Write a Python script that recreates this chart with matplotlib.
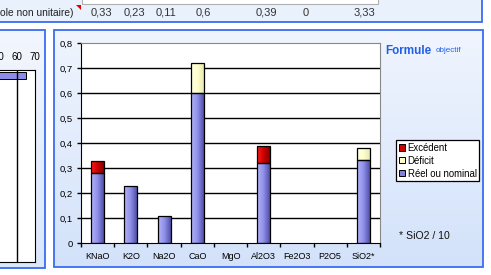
import numpy as np
import matplotlib
matplotlib.use('Agg')
import matplotlib.pyplot as plt
from matplotlib.patches import Rectangle, Patch, Polygon
from matplotlib.colors import LinearSegmentedColormap

W, H = 491, 275

# chart data
categories = ['KNaO', 'K2O', 'Na2O', 'CaO', 'MgO', 'Al2O3', 'Fe2O3', 'P2O5', 'SiO2*']
reel = [0.28, 0.23, 0.11, 0.60, 0.0, 0.32, 0.0, 0.0, 0.333]
excedent = [0.05, 0.0, 0.0, 0.0, 0.0, 0.07, 0.0, 0.0, 0.0]
deficit = [0.0, 0.0, 0.0, 0.12, 0.0, 0.0, 0.0, 0.0, 0.047]
yticks = [0, 0.1, 0.2, 0.3, 0.4, 0.5, 0.6, 0.7, 0.8]

# table row shown above the chart
row_label = 'ole non unitaire)'
row_values = ['0,33', '0,23', '0,11', '0,6', '0,39', '0', '3,33']
row_x = [101, 134, 166, 203, 266, 306, 364]   # column centers (px)

# left (cut-off) chart
left_values = [65]
left_ticks = [50, 60, 70]

BLUE = '#3a6cf2'
TXT_BLUE = '#1f5fe8'
FONT = 'Liberation Sans'


def box(x0, y0, x1, y1):
    '''pixel box (top-left origin) -> figure fraction rect'''
    return [x0 / W, 1 - y1 / H, (x1 - x0) / W, (y1 - y0) / H]


def prect(fig, x0, y0, x1, y1, **kw):
    r = Rectangle((x0 / W, 1 - y1 / H), (x1 - x0) / W, (y1 - y0) / H,
                  transform=fig.transFigure, **kw)
    fig.patches.append(r)
    return r


def gradient_panel(fig, x0, y0, x1, y1, top, bottom):
    bg = fig.add_axes(box(x0, y0, x1, y1), zorder=-5)
    cm = LinearSegmentedColormap.from_list('g', [top, bottom])
    bg.imshow(np.linspace(0, 1, 100).reshape(-1, 1), cmap=cm, aspect='auto',
              extent=[0, 1, 0, 1])
    bg.axis('off')
    prect(fig, x0, y0, x1, y1, fill=False, edgecolor=BLUE, lw=1.3, zorder=5)


fig = plt.figure(figsize=(W / 100, H / 100), dpi=100)
fig.patch.set_facecolor('white')

# ---- top table strip
prect(fig, -2, -2, 482, 21.5, facecolor='#e9f1fd', edgecolor=BLUE, lw=1.3)
prect(fig, 82, -2, 378, 4, facecolor='white', edgecolor='#b0b0b0', lw=0.8)
fig.patches.append(Polygon([(76 / W, 1 - 5 / H), (81 / W, 1 - 5 / H), (81 / W, 1 - 10 / H)],
                           closed=True, transform=fig.transFigure,
                           facecolor='#e00000', edgecolor='none'))
fig.text(73 / W, 1 - 12.5 / H, row_label, ha='right', va='center',
         fontsize=7.4, family=FONT, color='#222222')
for xv, s in zip(row_x, row_values):
    fig.text(xv / W, 1 - 12.5 / H, s, ha='center', va='center',
             fontsize=8, family=FONT, color='#333333')

# ---- left panel (partially visible chart)
gradient_panel(fig, -2, 30, 45, 268, '#f2f6fe', '#dbe7fb')
axl = fig.add_axes(box(-37, 70, 35, 262))
axl.barh([0], left_values, height=1, color='#8c8ce6', edgecolor='black', lw=0.7)
axl.set_xlim(30, 70)
axl.set_ylim(26.5, -0.8)
axl.set_yticks([])
axl.set_xticks(left_ticks)
axl.xaxis.tick_top()
axl.tick_params(axis='x', length=0, pad=6, labelsize=7)
for lab in axl.get_xticklabels():
    lab.set_family(FONT)
for xv in left_ticks[1:-1]:
    axl.axvline(xv, color='black', lw=1)
for sp in axl.spines.values():
    sp.set_color('black')

# ---- main panel
gradient_panel(fig, 54, 30, 482.5, 267, '#f0f5fe', '#d3e2fa')
ax = fig.add_axes(box(81, 43.3, 380, 243.3))
ax.set_facecolor('white')

x = np.arange(len(categories))
w = 0.39
reel = np.array(reel)
excedent = np.array(excedent)
deficit = np.array(deficit)

cm_reel = LinearSegmentedColormap.from_list('r', ['#b4b4fa', '#9090ea', '#5050a8'])
cm_exc = LinearSegmentedColormap.from_list('e', ['#ff1a1a', '#d00000', '#800000'])
cm_def = LinearSegmentedColormap.from_list('d', ['#ffffe0', '#ffffcc', '#e8e8b0'])

layers = [(reel, np.zeros(len(x)), '#8c8ce6', cm_reel),
          (excedent, reel, '#d00000', cm_exc),
          (deficit, reel + excedent, '#ffffcc', cm_def)]
grad = np.linspace(0, 1, 64).reshape(1, -1)
for vals, bottom, col, cm in layers:
    bars = ax.bar(x, vals, w, bottom=bottom, color=col, lw=0, zorder=2)
    for b in bars:
        if b.get_height() <= 0:
            continue
        x0, y0 = b.get_x(), b.get_y()
        im = ax.imshow(grad, cmap=cm, aspect='auto', zorder=2.5,
                       extent=[x0, x0 + b.get_width(), y0, y0 + b.get_height()])
        im.set_clip_path(b)
    ax.bar(x, vals, w, bottom=bottom, facecolor='none', edgecolor='black',
           lw=np.where(vals > 0, 0.9, 0), zorder=3)

ax.set_xlim(-0.5, len(categories) - 0.5)
ax.set_ylim(0, 0.8)
for yv in yticks[1:-1]:
    ax.axhline(yv, color='black', lw=1, zorder=1)

ax.set_yticks(yticks)
ax.set_yticklabels([('%g' % v).replace('.', ',') for v in yticks])
ax.set_xticks(x)
ax.set_xticklabels(categories)
ax.set_xticks(np.arange(-0.5, len(categories), 1), minor=True)
ax.tick_params(axis='x', which='major', length=0, pad=6.5, labelsize=6.5)
ax.tick_params(axis='x', which='minor', length=3, width=1, direction='out')
ax.tick_params(axis='y', length=3, width=1, direction='out', pad=3, labelsize=6.8)
for lab in ax.get_xticklabels() + ax.get_yticklabels():
    lab.set_family(FONT)
ax.spines['left'].set_color('black')
ax.spines['bottom'].set_color('black')
ax.spines['top'].set_color('#888888')
ax.spines['right'].set_color('#888888')

# title and notes
fig.text(385 / W, 1 - 50.5 / H, 'Formule', ha='left', va='center', fontsize=8.4,
         fontweight='bold', family=FONT, color=TXT_BLUE)
fig.text(436 / W, 1 - 51 / H, 'objectif', ha='left', va='center', fontsize=5.8,
         family=FONT, color=TXT_BLUE)
fig.text(399 / W, 1 - 236 / H, '* SiO2 / 10', ha='left', va='center', fontsize=7.6,
         family=FONT, color='#111111')

handles = [Patch(facecolor='#d00000', edgecolor='black', lw=0.7, label='Excédent'),
           Patch(facecolor='#ffffcc', edgecolor='black', lw=0.7, label='Déficit'),
           Patch(facecolor='#8080d8', edgecolor='black', lw=0.7, label='Réel ou nominal')]
leg = fig.legend(handles=handles, loc='upper left', bbox_to_anchor=(396 / W, 1 - 140 / H),
                 fancybox=False, framealpha=1, edgecolor='black', borderaxespad=0,
                 handlelength=0.6, handleheight=0.6, handletextpad=0.3,
                 labelspacing=0.3, borderpad=0.3, prop={'family': FONT, 'size': 6.9})
leg.get_frame().set_linewidth(0.9)

fig.savefig('out.png', dpi=100)
